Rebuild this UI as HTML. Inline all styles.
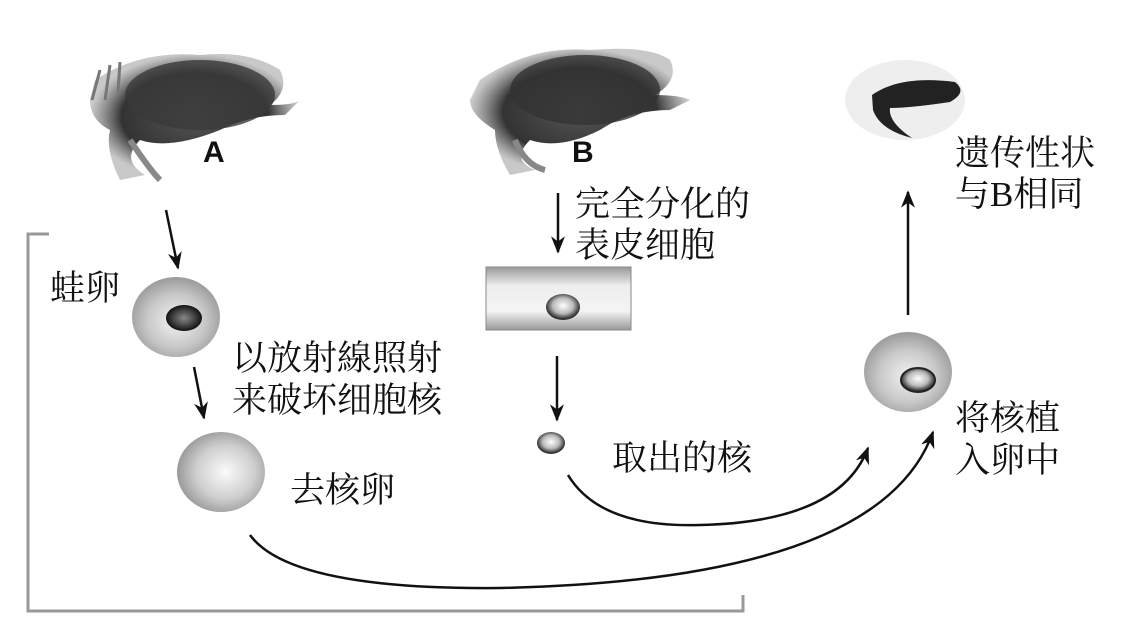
<!DOCTYPE html>
<html><head><meta charset="utf-8"><style>
html,body{margin:0;padding:0;background:#fff;}
svg{display:block}
text{font-family:"Liberation Serif","Noto Serif CJK SC","Noto Sans CJK SC",serif;font-size:35px;fill:#111}
</style></head><body>
<svg width="1138" height="644" viewBox="0 0 1138 644" xmlns="http://www.w3.org/2000/svg">
<defs>
<radialGradient id="egg" cx="50%" cy="55%" r="55%"><stop offset="0" stop-color="#f2f2f2"/><stop offset="0.6" stop-color="#c8c8c8"/><stop offset="1" stop-color="#9a9a9a"/></radialGradient>
<radialGradient id="egg2" cx="55%" cy="50%" r="55%"><stop offset="0" stop-color="#fafafa"/><stop offset="0.6" stop-color="#cfcfcf"/><stop offset="1" stop-color="#999"/></radialGradient>
<radialGradient id="nucD" cx="50%" cy="50%" r="50%"><stop offset="0" stop-color="#888"/><stop offset="0.6" stop-color="#444"/><stop offset="1" stop-color="#111"/></radialGradient>
<radialGradient id="nucL" cx="50%" cy="45%" r="50%"><stop offset="0" stop-color="#fff"/><stop offset="0.6" stop-color="#bbb"/><stop offset="1" stop-color="#333"/></radialGradient>
<linearGradient id="rect" x1="0" y1="0" x2="0" y2="1"><stop offset="0" stop-color="#999"/><stop offset="0.3" stop-color="#eee"/><stop offset="0.7" stop-color="#f4f4f4"/><stop offset="1" stop-color="#999"/></linearGradient>
<radialGradient id="frog" cx="50%" cy="50%" r="50%"><stop offset="0" stop-color="#555"/><stop offset="0.7" stop-color="#333"/><stop offset="1" stop-color="#777" stop-opacity="0.4"/></radialGradient>
<marker id="ah" viewBox="0 0 10 10" refX="9" refY="5" markerWidth="7" markerHeight="7" orient="auto"><path d="M0,1 L10,5 L0,9 L3,5 Z" fill="#111"/></marker>
</defs>

<path d="M49,234 L28,234 L28,611 L743,611 L743,595" fill="none" stroke="#999" stroke-width="3"/>

<!-- Frog A -->
<g>
<path d="M95,80 Q140,50 200,55 Q250,50 280,70 Q290,90 270,105 Q295,105 300,100 L285,115 Q250,115 220,130 Q170,150 140,140 Q120,160 145,175 L120,180 Q105,150 110,130 Q90,120 90,100 Z" fill="url(#frog)"/>
<path d="M100,70 l-8,30 M110,65 l-5,35 M120,62 l-2,30" stroke="#777" stroke-width="3"/>
<path d="M130,140 Q150,170 160,180" stroke="#888" stroke-width="6" fill="none"/>
<ellipse cx="200" cy="95" rx="75" ry="35" fill="#3a3a3a" opacity="0.8"/>
<text x="203" y="162" style="font-family:'Liberation Sans',sans-serif;font-weight:bold;font-size:30px">A</text>
</g>
<!-- Frog B -->
<g>
<path d="M480,80 Q530,45 590,50 Q650,45 670,60 Q680,80 655,95 Q680,95 690,100 L670,110 Q630,110 600,130 Q560,150 530,140 Q510,160 535,170 L510,175 Q495,150 495,130 Q470,115 470,100 Z" fill="url(#frog)"/>
<path d="M515,140 Q525,165 545,170" stroke="#888" stroke-width="6" fill="none"/>
<ellipse cx="585" cy="90" rx="75" ry="35" fill="#333" opacity="0.8"/>
<text x="572" y="162" style="font-family:'Liberation Sans',sans-serif;font-weight:bold;font-size:30px">B</text>
</g>
<!-- tadpole -->
<ellipse cx="905" cy="100" rx="60" ry="40" fill="#eee"/>
<path d="M872,95 Q900,75 955,82 Q968,92 950,102 Q910,108 890,108 Q888,122 912,138 Q880,130 873,110 Z" fill="#222"/>

<line x1="166" y1="210" x2="178" y2="268" stroke="#111" stroke-width="2.5" marker-end="url(#ah)"/>
<line x1="194" y1="367" x2="204" y2="418" stroke="#111" stroke-width="2.5" marker-end="url(#ah)"/>
<line x1="558" y1="193" x2="558" y2="252" stroke="#111" stroke-width="2.5" marker-end="url(#ah)"/>
<line x1="557" y1="356" x2="557" y2="420" stroke="#111" stroke-width="2.5" marker-end="url(#ah)"/>
<line x1="908" y1="315" x2="908" y2="192" stroke="#111" stroke-width="2.5" marker-end="url(#ah)"/>
<path d="M568,475 Q600,528 700,525 Q840,522 868,448" fill="none" stroke="#111" stroke-width="2.5" marker-end="url(#ah)"/>
<path d="M250,535 Q290,590 500,588 Q880,580 933,432" fill="none" stroke="#111" stroke-width="2.5" marker-end="url(#ah)"/>

<ellipse cx="176" cy="317" rx="44" ry="40" fill="url(#egg)"/>
<ellipse cx="184" cy="318" rx="18" ry="13" fill="url(#nucD)"/>
<ellipse cx="221" cy="472" rx="44" ry="40" fill="url(#egg2)"/>
<rect x="486" y="267" width="145" height="63" fill="url(#rect)" stroke="#888" stroke-width="1"/>
<ellipse cx="563" cy="307" rx="17" ry="13" fill="url(#nucL)"/>
<ellipse cx="551" cy="443" rx="14" ry="11" fill="url(#nucL)"/>
<ellipse cx="908" cy="372" rx="44" ry="40" fill="url(#egg)"/>
<ellipse cx="918" cy="380" rx="17" ry="12" fill="url(#nucL)" stroke="#222" stroke-width="2"/>

<text x="50" y="300">蛙卵</text>
<text x="232" y="370">以放射線照射</text>
<text x="232" y="412">来破坏细胞核</text>
<text x="290" y="502">去核卵</text>
<text x="575" y="216">完全分化的</text>
<text x="575" y="257">表皮细胞</text>
<text x="612" y="470">取出的核</text>
<text x="955" y="165">遗传性状</text>
<text x="955" y="206">与B相同</text>
<text x="955" y="430">将核植</text>
<text x="955" y="472">入卵中</text>
</svg>
</body></html>
